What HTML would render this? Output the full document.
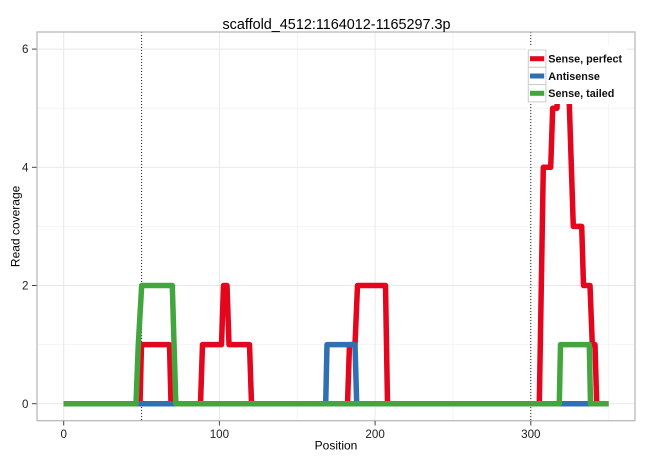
<!DOCTYPE html>
<html><head><meta charset="utf-8"><style>
html,body{margin:0;padding:0;background:#fff;}
svg{display:block;}
text{font-family:"Liberation Sans",Arial,sans-serif;}
</style></head><body>
<svg width="650" height="460" viewBox="0 0 650 460" xmlns="http://www.w3.org/2000/svg">
<rect x="0" y="0" width="650" height="460" fill="#fff"/>
<!-- minor grid -->
<g stroke="#f4f4f4" stroke-width="1">
<line x1="141.55" y1="32" x2="141.55" y2="420.7"/>
<line x1="297.25" y1="32" x2="297.25" y2="420.7"/>
<line x1="452.95" y1="32" x2="452.95" y2="420.7"/>
<line x1="608.65" y1="32" x2="608.65" y2="420.7"/>
<line x1="37" y1="344.6" x2="635" y2="344.6"/>
<line x1="37" y1="226.4" x2="635" y2="226.4"/>
<line x1="37" y1="108.2" x2="635" y2="108.2"/>
</g>
<!-- major grid -->
<g stroke="#e8e8e8" stroke-width="1">
<line x1="63.7" y1="32" x2="63.7" y2="420.7"/>
<line x1="219.4" y1="32" x2="219.4" y2="420.7"/>
<line x1="375.1" y1="32" x2="375.1" y2="420.7"/>
<line x1="530.8" y1="32" x2="530.8" y2="420.7"/>
<line x1="37" y1="403.7" x2="635" y2="403.7"/>
<line x1="37" y1="285.5" x2="635" y2="285.5"/>
<line x1="37" y1="167.3" x2="635" y2="167.3"/>
<line x1="37" y1="49.1" x2="635" y2="49.1"/>
</g>
<!-- dotted vlines -->
<g stroke="#222" stroke-width="1" stroke-dasharray="1,2">
<line x1="141.6" y1="32" x2="141.6" y2="420.7"/>
<line x1="530.8" y1="32" x2="530.8" y2="420.7"/>
</g>
<!-- series -->
<g fill="none" stroke-width="5.5" stroke-linejoin="round" stroke-linecap="butt">
<polyline stroke="#e3061d" points="63.7,403.7 140,403.7 141.5,344.6 169.5,344.6 171,403.7 200.5,403.7 202.5,344.6 221.5,344.6 223.5,285.5 227,285.5 229,344.6 249.5,344.6 251.5,403.7 347.5,403.7 349.5,344.6 355,344.6 357.5,285.5 385.5,285.5 387.5,403.7 539.3,403.7 543.3,167.3 550.7,167.3 552.7,108.2 557,108.2 559,49.1 567.5,49.1 573.3,226.4 581.7,226.4 583.5,285.5 590,285.5 592.3,344.6 595,344.6 596.7,403.7 608.6,403.7"/>
<polyline stroke="#3070b2" points="63.7,403.7 325.7,403.7 327,344.6 355,344.6 356.7,403.7 608.6,403.7"/>
<polyline stroke="#43a53e" points="63.7,403.7 136,403.7 138.3,344.6 141.7,285.5 172.3,285.5 175.8,403.7 559.3,403.7 560.5,344.6 589.3,344.6 590.5,403.7 608.6,403.7"/>
</g>
<!-- panel border -->
<rect x="37" y="32" width="598" height="388.7" fill="none" stroke="#b5b5b5" stroke-width="1.2"/>
<!-- ticks -->
<g stroke="#444" stroke-width="1">
<line x1="63.7" y1="421" x2="63.7" y2="425.5"/>
<line x1="219.4" y1="421" x2="219.4" y2="425.5"/>
<line x1="375.1" y1="421" x2="375.1" y2="425.5"/>
<line x1="530.8" y1="421" x2="530.8" y2="425.5"/>
<line x1="32" y1="403.7" x2="36.5" y2="403.7"/>
<line x1="32" y1="285.5" x2="36.5" y2="285.5"/>
<line x1="32" y1="167.3" x2="36.5" y2="167.3"/>
<line x1="32" y1="49.1" x2="36.5" y2="49.1"/>
</g>
<g font-size="11.6" fill="#222" text-anchor="middle">
<text x="63.7" y="437.8">0</text>
<text x="219.4" y="437.8">100</text>
<text x="375.1" y="437.8">200</text>
<text x="530.8" y="437.8">300</text>
</g>
<g font-size="11.6" fill="#222" text-anchor="end">
<text x="28.5" y="407.8">0</text>
<text x="28.5" y="289.6">2</text>
<text x="28.5" y="171.4">4</text>
<text x="28.5" y="53.2">6</text>
</g>
<text x="336" y="449.5" font-size="12" text-anchor="middle" fill="#000">Position</text>
<text transform="translate(19.3,226.4) rotate(-90)" font-size="12" text-anchor="middle" fill="#000">Read coverage</text>
<text x="336.5" y="29" font-size="14.4" text-anchor="middle" fill="#000">scaffold_4512:1164012-1165297.3p</text>
<!-- legend -->
<rect x="526" y="45" width="101" height="59" fill="#fff"/>
<g stroke="#cccccc" stroke-width="1" fill="#fff">
<rect x="528.3" y="50" width="17.6" height="17.3"/>
<rect x="528.3" y="67.3" width="17.6" height="17.3"/>
<rect x="528.3" y="84.6" width="17.6" height="17.3"/>
</g>
<g stroke-width="5">
<line x1="530" y1="58.7" x2="544.2" y2="58.7" stroke="#e3061d"/>
<line x1="530" y1="76" x2="544.2" y2="76" stroke="#3070b2"/>
<line x1="530" y1="93.3" x2="544.2" y2="93.3" stroke="#43a53e"/>
</g>
<g font-size="10.8" font-weight="bold" fill="#111">
<text x="548.3" y="62.5">Sense, perfect</text>
<text x="548.3" y="79.8">Antisense</text>
<text x="548.3" y="97.1">Sense, tailed</text>
</g>
</svg>
</body></html>
